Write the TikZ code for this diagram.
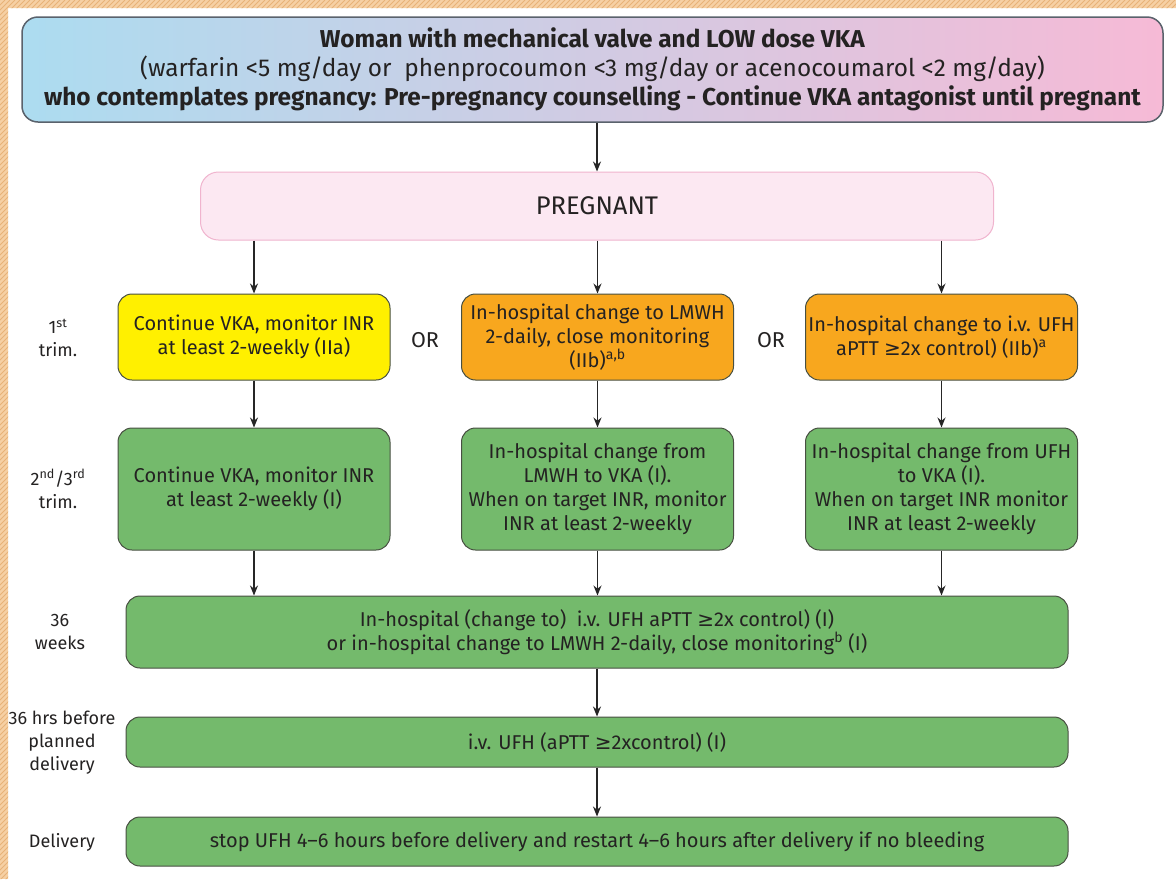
\documentclass[tikz,border=0pt]{standalone}
\usepackage{fontspec}
\setmainfont{Fira Sans}
\newfontfamily\symfont{DejaVu Sans}
\usetikzlibrary{arrows.meta}

\definecolor{txtgray}{RGB}{36,34,34}
\definecolor{hatchfill}{RGB}{246,208,164}
\definecolor{hatchline}{RGB}{232,178,120}
\definecolor{topleft}{RGB}{172,220,240}
\definecolor{topright}{RGB}{246,186,214}
\definecolor{topborder}{RGB}{90,98,108}
\definecolor{pregfill}{RGB}{252,232,242}
\definecolor{pregborder}{RGB}{240,180,206}
\definecolor{vkayellow}{RGB}{255,240,0}
\definecolor{lmwhorange}{RGB}{248,167,30}
\definecolor{stepgreen}{RGB}{116,186,108}
\definecolor{boxborder}{RGB}{72,80,66}

\newcommand{\geqsign}{{\symfont ≥}}

\def\colW{272pt}
\def\rowOneH{86pt}
\def\rowTwoH{122pt}
\def\wideW{942pt}

\tikzset{
    flowbox/.style={draw=boxborder, line width=1pt, rounded corners=14pt,
        align=center, text=txtgray, inner sep=0pt,
        font=\fontsize{20}{24}\selectfont},
    yellowbox/.style={flowbox, fill=vkayellow},
    orangebox/.style={flowbox, fill=lmwhorange},
    greenbox/.style={flowbox, fill=stepgreen},
    steplabel/.style={align=center, text=txtgray,
        font=\fontsize{18}{23}\selectfont},
    orlabel/.style={text=txtgray, font=\fontsize{21.5}{24}\selectfont},
    flowarrow/.style={-{Stealth[length=10pt,width=8pt]}, line width=1.2pt, black!85},
}

\begin{document}
\begin{tikzpicture}[x=1pt, y=-1pt]
    \useasboundingbox (0,0) rectangle (1176,879);
    \fill[white] (0,0) rectangle (1176,879);

    %% hatched frame, left and top
    \begin{scope}
        \clip (0,0) rectangle (8,879) (0,0) rectangle (1176,8);
        \fill[hatchfill] (0,0) rectangle (1176,879);
        \foreach \h in {0,5,...,2060} {
            \draw[hatchline, line width=0.8pt] (\h,0) -- ++(-900,900);
        }
    \end{scope}

    %% header
    \node[flowbox, draw=topborder, line width=1.5pt, rounded corners=16pt,
        left color=topleft, right color=topright,
        minimum width=1141pt, minimum height=105pt,
        font=\fontsize{24.4}{29}\selectfont] (top) at (592.5,69.5)
        {\textbf{Woman with mechanical valve and LOW dose VKA}\\
         (warfarin <5 mg/day or\ \ phenprocoumon <3 mg/day or acenocoumarol <2 mg/day)\\
         \textbf{who contemplates pregnancy: Pre-pregnancy counselling - Continue VKA antagonist until pregnant}};

    \node[flowbox, draw=pregborder, fill=pregfill, rounded corners=18pt,
        minimum width=793pt, minimum height=68pt,
        font=\fontsize{25.5}{28}\selectfont] (preg) at (597,206) {PREGNANT};

    %% 1st trimester
    \node[yellowbox, minimum width=\colW, minimum height=\rowOneH] (vka1) at (254,337)
        {Continue VKA, monitor INR\\at least 2-weekly (IIa)};
    \node[orangebox, minimum width=\colW, minimum height=\rowOneH] (lmwh1) at (597.5,337)
        {In-hospital change to LMWH\\2-daily, close monitoring\\(IIb)\textsuperscript{a,b}};
    \node[orangebox, minimum width=\colW, minimum height=\rowOneH] (ufh1) at (941.5,337)
        {In-hospital change to i.v. UFH\\aPTT \geqsign2x control) (IIb)\textsuperscript{a}};
    \node[orlabel] (or1) at (425,340) {OR};
    \node[orlabel] (or2) at (771,340) {OR};

    %% 2nd/3rd trimester
    \node[greenbox, minimum width=\colW, minimum height=\rowTwoH] (vka2) at (254,489)
        {Continue VKA, monitor INR\\at least 2-weekly (I)};
    \node[greenbox, minimum width=\colW, minimum height=\rowTwoH] (lmwh2) at (597.5,489)
        {In-hospital change from\\LMWH to VKA (I).\\When on target INR, monitor\\INR at least 2-weekly};
    \node[greenbox, minimum width=\colW, minimum height=\rowTwoH] (ufh2) at (941.5,489)
        {In-hospital change from UFH\\to VKA (I).\\When on target INR monitor\\INR at least 2-weekly};

    %% late pregnancy and delivery
    \node[greenbox, minimum width=\wideW, minimum height=72pt] (week36) at (597,632)
        {In-hospital (change to)\ \ i.v. UFH aPTT \geqsign2x control) (I)\\
         or in-hospital change to LMWH 2-daily, close monitoring\textsuperscript{b} (I)};
    \node[greenbox, minimum width=\wideW, minimum height=50pt] (hrs36) at (597,742)
        {i.v. UFH (aPTT \geqsign2xcontrol) (I)};
    \node[greenbox, minimum width=\wideW, minimum height=49pt] (deliv) at (597,841.5)
        {stop UFH 4--6 hours before delivery and restart 4--6 hours after delivery if no bleeding};

    %% stage labels
    \node[steplabel] (lab1) at (58,338) {1\textsuperscript{st}\\trim.};
    \node[steplabel] (lab2) at (58,489) {2\textsuperscript{nd}/3\textsuperscript{rd}\\trim.};
    \node[steplabel] (lab3) at (60,632) {36\\weeks};
    \node[steplabel] (lab4) at (62,743) {36 hrs before\\planned\\delivery};
    \node[steplabel] (lab5) at (62,842) {Delivery};

    %% arrows
    \draw[flowarrow] (top.south -| preg.north) -- (preg.north);
    \foreach \b in {vka1,lmwh1,ufh1} {
        \draw[flowarrow] (preg.south -| \b.north) -- (\b.north);
    }
    \draw[flowarrow] (vka1) -- (vka2);
    \draw[flowarrow] (lmwh1) -- (lmwh2);
    \draw[flowarrow] (ufh1) -- (ufh2);
    \foreach \b in {vka2,lmwh2,ufh2} {
        \draw[flowarrow] (\b.south) -- (\b.south |- week36.north);
    }
    \draw[flowarrow] (week36) -- (hrs36);
    \draw[flowarrow] (hrs36) -- (deliv);
\end{tikzpicture}
\end{document}
